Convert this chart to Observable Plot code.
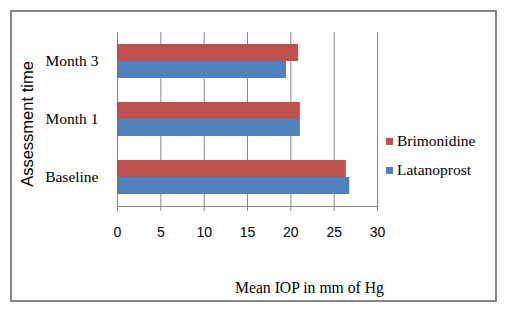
<!DOCTYPE html>
<html>
<head>
<meta charset="utf-8">
<script src="https://cdn.jsdelivr.net/npm/d3@7"></script>
<script src="https://cdn.jsdelivr.net/npm/@observablehq/plot@0.6"></script>
<style>
  html, body { margin: 0; padding: 0; background: #fff; }
  #wrap { position: relative; width: 508px; height: 310px; overflow: hidden; background: #fff; }
  #border { position: absolute; left: 10px; top: 10px; width: 487px; height: 292px; box-sizing: border-box; border: 2px solid #878787; }
  #chart { position: absolute; left: 0; top: 0; }
  .serif { font-family: "Liberation Serif", "Times New Roman", serif; color: #000; }
  #xtitle { position: absolute; left: 235px; top: 278px; font-size: 15.7px; white-space: nowrap; line-height: 20px; }
  #ytitle { position: absolute; left: 27px; top: 124px; font-family: "Liberation Sans", Arial, sans-serif; font-size: 16.5px; white-space: nowrap; transform: translate(-50%, -50%) rotate(-90deg); line-height: 20px; }
  .leg { position: absolute; left: 386px; font-size: 15.5px; white-space: nowrap; line-height: 18px; display: flex; align-items: center; }
  .sw { display: inline-block; width: 7px; height: 7px; margin-right: 4px; }
</style>
</head>
<body>
<div id="wrap">
  <div id="border"></div>
  <div id="chart"></div>
  <div id="ytitle">Assessment time</div>
  <div id="xtitle" class="serif">Mean IOP in mm of Hg</div>
  <div id="legend"></div>
</div>
<script>
const times = ["Month 3", "Month 1", "Baseline"];
const seriesNames = ["Brimonidine", "Latanoprost"];
const brimonidine = [20.9, 21.1, 26.4];
const latanoprost = [19.5, 21.1, 26.8];
const xTicks = [0, 5, 10, 15, 20, 25, 30];
const colors = ["#C0504D", "#4F81BD"];

const rows = [];
times.forEach((t, i) => {
  rows.push({time: t, series: seriesNames[0], value: brimonidine[i]});
  rows.push({time: t, series: seriesNames[1], value: latanoprost[i]});
});

const gray = "#868686";
const chart = Plot.plot({
  width: 508,
  height: 310,
  marginLeft: 117,
  marginRight: 131,
  marginTop: 32,
  marginBottom: 104,
  style: {background: "transparent", fontFamily: "Liberation Sans, Arial, sans-serif", color: "#000"},
  x: {domain: [0, 30]},
  y: {domain: times, padding: 0},
  color: {domain: seriesNames, range: colors},
  marks: [
    Plot.ruleX(xTicks, {stroke: gray, strokeOpacity: 1}),
    Plot.barX(rows.filter(d => d.series === seriesNames[0]), {x: "value", y: "time", fill: "series", insetTop: 12, insetBottom: 29}),
    Plot.barX(rows.filter(d => d.series === seriesNames[1]), {x: "value", y: "time", fill: "series", insetTop: 29, insetBottom: 12}),
    Plot.frame({anchor: "bottom", stroke: gray, strokeOpacity: 1}),
    Plot.axisX({ticks: xTicks, tickFormat: d => String(d), tickSize: 5, tickPadding: 16, stroke: gray, strokeOpacity: 1, fontSize: 14, label: null, fill: "#000"}),
    Plot.axisY({tickSize: 0, tickPadding: 19, fontSize: 15.5, fontFamily: "Liberation Serif, Times New Roman, serif", label: null, fill: "#000"})
  ]
});
document.getElementById("chart").appendChild(chart);

const legend = document.getElementById("legend");
const legendTops = [132, 161];
seriesNames.forEach((name, i) => {
  const row = document.createElement("div");
  row.className = "leg serif";
  row.style.top = legendTops[i] + "px";
  const sw = document.createElement("span");
  sw.className = "sw";
  sw.style.background = colors[i];
  row.appendChild(sw);
  row.appendChild(document.createTextNode(name));
  legend.appendChild(row);
});
</script>
</body>
</html>
